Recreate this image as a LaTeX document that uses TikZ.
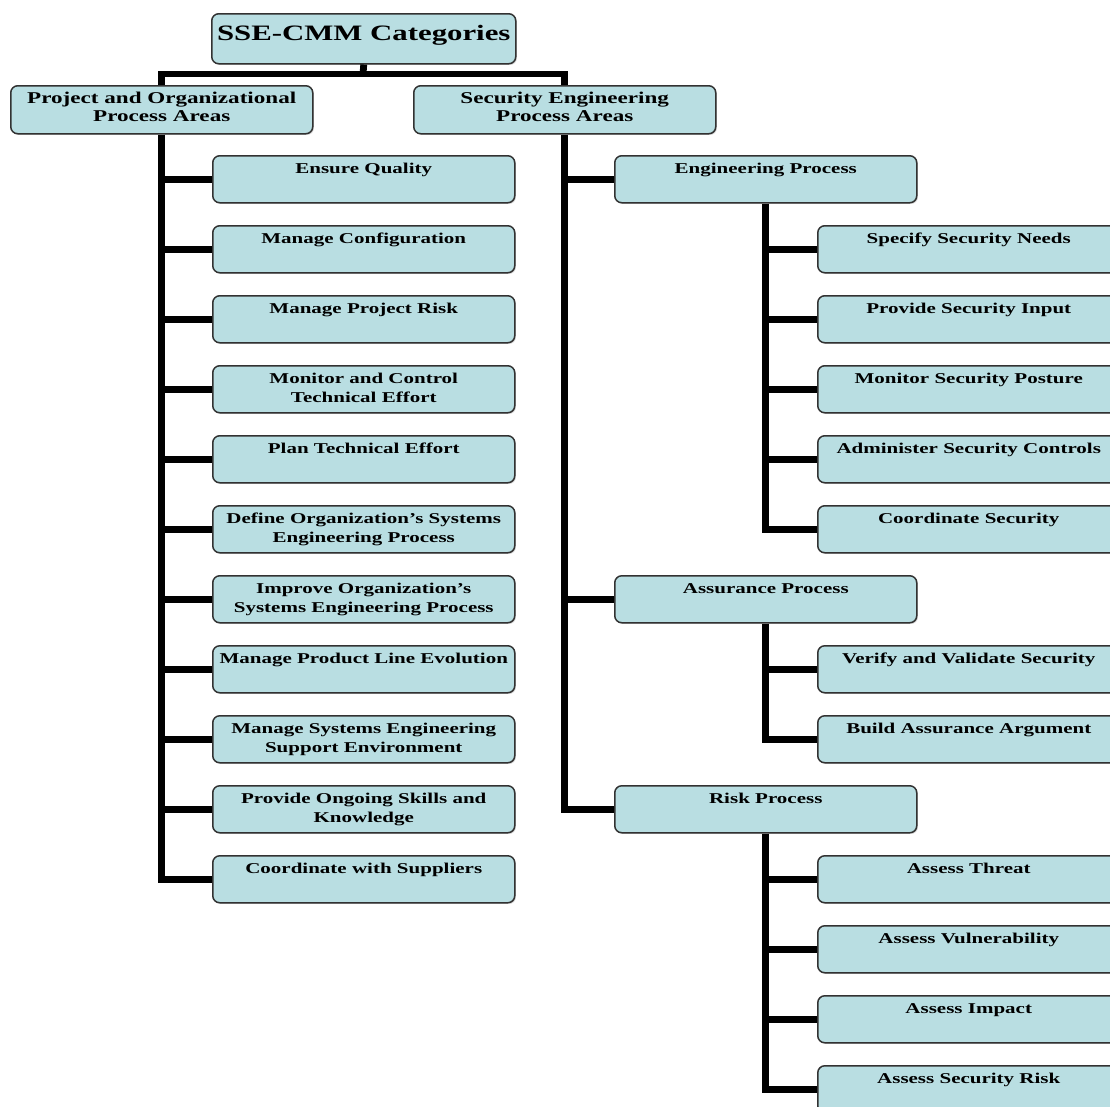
\documentclass[tikz,border=0pt]{standalone}
\usepackage{fontspec}
\setmainfont[FakeStretch=1.4]{Liberation Serif}
\usetikzlibrary{shadows}
\definecolor{boxfill}{RGB}{185,222,226}
\definecolor{boxline}{RGB}{50,50,50}
\newcommand\ctxt[1]{\parbox[t][47pt][t]{300pt}{\centering\rule{0pt}{18pt}#1}}
\newcommand\ltxt[1]{\parbox[t][48pt][t]{300pt}{\centering\rule{0pt}{18pt}#1}}
\newcommand\ttxt[1]{\parbox[t][50pt][t]{304pt}{\centering\rule{0pt}{27pt}#1}}
\tikzset{
  x=1pt, y=-1pt,
  basebox/.style={draw=boxline, line width=1.5pt, fill=boxfill, rounded corners=7pt,
    inner sep=0pt, anchor=north west,
    drop shadow={shadow xshift=1.2pt, shadow yshift=-1.2pt, opacity=0.35}},
  child/.style={basebox, minimum width=302pt, minimum height=47pt,
    font=\fontsize{15}{19}\selectfont\bfseries},
  areabox/.style={basebox, minimum width=302pt, minimum height=48pt,
    font=\fontsize{16.5}{17.5}\selectfont\bfseries},
  titlebox/.style={basebox, minimum width=304pt, minimum height=50pt,
    font=\fontsize{22}{24}\selectfont\bfseries},
  conn/.style={line width=6.8pt, black}
}
\begin{document}
\begin{tikzpicture}
\useasboundingbox (0,0) rectangle (1110,1106);
\clip (0,0) rectangle (1110,1106);
% top levels
\node[titlebox] (title) at (211,13) {\ttxt{SSE-CMM Categories}};
\node[areabox] (poa) at (10,85) {\ltxt{Project and Organizational\\Process Areas}};
\node[areabox] (sea) at (413,85) {\ltxt{Security Engineering\\Process Areas}};
\coordinate (bar) at (363,74);
% left children
\node[child] (l1) at (212,155) {\ctxt{Ensure Quality}};
\node[child] (l2) at (212,225) {\ctxt{Manage Configuration}};
\node[child] (l3) at (212,295) {\ctxt{Manage Project Risk}};
\node[child] (l4) at (212,365) {\ctxt{Monitor and Control\\Technical Effort}};
\node[child] (l5) at (212,435) {\ctxt{Plan Technical Effort}};
\node[child] (l6) at (212,505) {\ctxt{Define Organization’s Systems\\Engineering Process}};
\node[child] (l7) at (212,575) {\ctxt{Improve Organization’s\\Systems Engineering Process}};
\node[child] (l8) at (212,645) {\ctxt{Manage Product Line Evolution}};
\node[child] (l9) at (212,715) {\ctxt{Manage Systems Engineering\\Support Environment}};
\node[child] (l10) at (212,785) {\ctxt{Provide Ongoing Skills and\\Knowledge}};
\node[child] (l11) at (212,855) {\ctxt{Coordinate with Suppliers}};
% right process groups
\node[child] (eng) at (614,155) {\ctxt{Engineering Process}};
\node[child] (asr) at (614,575) {\ctxt{Assurance Process}};
\node[child] (risk) at (614,785) {\ctxt{Risk Process}};
% engineering children
\node[child] (e1) at (817,225) {\ctxt{Specify Security Needs}};
\node[child] (e2) at (817,295) {\ctxt{Provide Security Input}};
\node[child] (e3) at (817,365) {\ctxt{Monitor Security Posture}};
\node[child] (e4) at (817,435) {\ctxt{Administer Security Controls}};
\node[child] (e5) at (817,505) {\ctxt{Coordinate Security}};
% assurance children
\node[child] (a1) at (817,645) {\ctxt{Verify and Validate Security}};
\node[child] (a2) at (817,715) {\ctxt{Build Assurance Argument}};
% risk children
\node[child] (r1) at (817,855) {\ctxt{Assess Threat}};
\node[child] (r2) at (817,925) {\ctxt{Assess Vulnerability}};
\node[child] (r3) at (817,995) {\ctxt{Assess Impact}};
\node[child] (r4) at (817,1065) {\ctxt{Assess Security Risk}};
% connectors
\draw[conn] (title.south) -- (bar);
\draw[conn] (poa.north) |- (bar) -| (sea.north);
\draw[conn] (poa.south) |- (l11.west);
\foreach \n in {l1,l2,l3,l4,l5,l6,l7,l8,l9,l10}
  \draw[conn] (poa.south |- \n.west) -- (\n.west);
\draw[conn] (sea.south) |- (risk.west);
\draw[conn] (sea.south |- eng.west) -- (eng.west);
\draw[conn] (sea.south |- asr.west) -- (asr.west);
\draw[conn] (eng.south) |- (e5.west);
\foreach \n in {e1,e2,e3,e4}
  \draw[conn] (eng.south |- \n.west) -- (\n.west);
\draw[conn] (asr.south) |- (a2.west);
\draw[conn] (asr.south |- a1.west) -- (a1.west);
\draw[conn] (risk.south) |- (r4.west);
\foreach \n in {r1,r2,r3}
  \draw[conn] (risk.south |- \n.west) -- (\n.west);
\end{tikzpicture}
\end{document}
